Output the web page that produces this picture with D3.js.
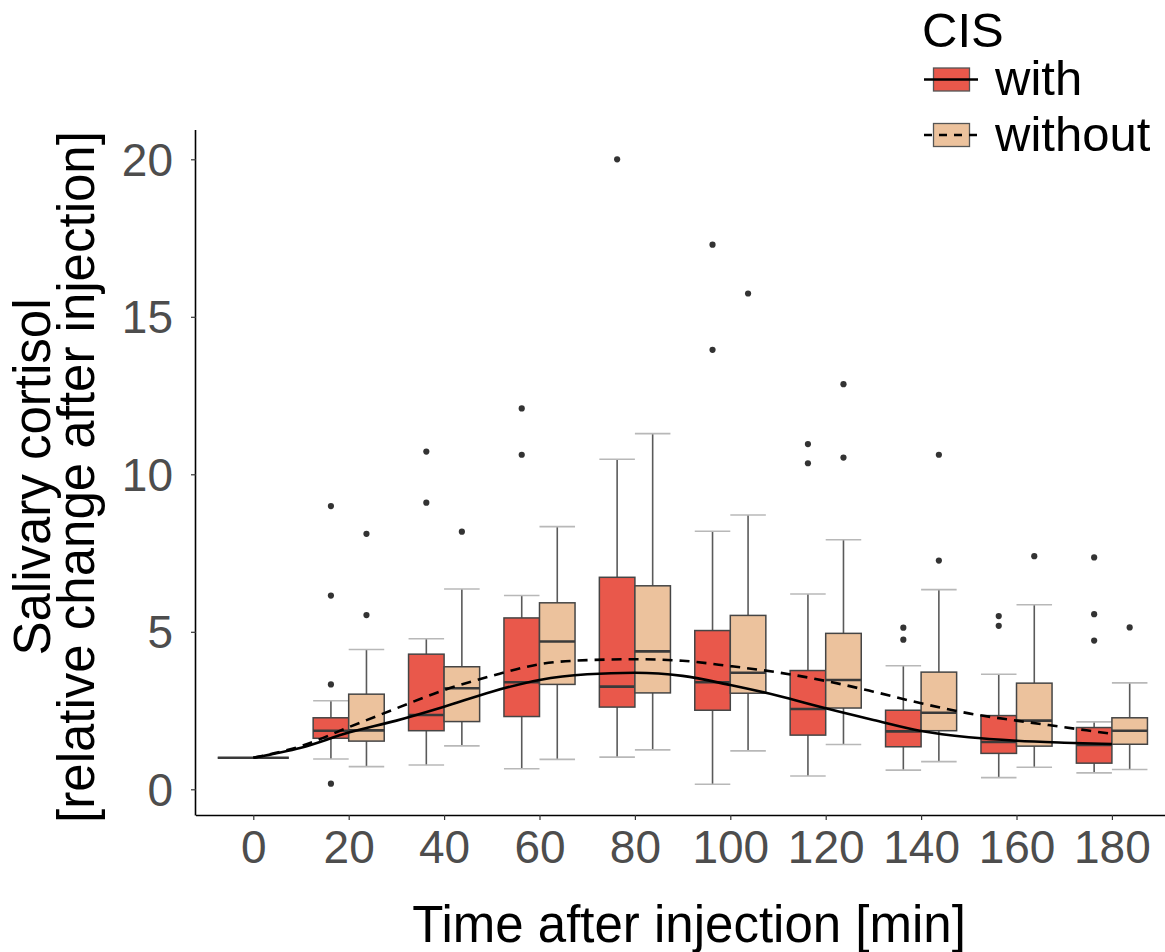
<!DOCTYPE html>
<html>
<head>
<meta charset="utf-8">
<script src="https://cdn.jsdelivr.net/npm/d3@7"></script>
<style>
  html, body { margin: 0; padding: 0; background: #fff; }
  svg { display: block; font-family: "Liberation Sans", Arial, sans-serif; }
</style>
</head>
<body>
<svg id="chart" width="1165" height="952"></svg>
<script>
// ---- data ----
const times = [0, 20, 40, 60, 80, 100, 120, 140, 160, 180];
const groups = ["with", "without"];
// [lower whisker, q1, median, q3, upper whisker]
const withBoxes = [
  [1, 1, 1, 1, 1],
  [0.96, 1.62, 1.86, 2.27, 2.81],
  [0.77, 1.86, 2.36, 4.29, 4.78],
  [0.65, 2.31, 3.40, 5.44, 6.15],
  [1.02, 2.61, 3.26, 6.73, 10.48],
  [0.16, 2.51, 3.40, 5.04, 8.19],
  [0.42, 1.72, 2.55, 3.77, 6.20],
  [0.61, 1.35, 1.84, 2.51, 3.92],
  [0.37, 1.14, 1.50, 2.34, 3.65],
  [0.52, 0.83, 1.41, 1.96, 2.14]
];
const withOutliers = [
  [],
  [8.99, 6.15, 3.33, 0.18],
  [10.72, 9.10],
  [12.09, 10.62],
  [20.0],
  [17.29, 13.95],
  [10.96, 10.35],
  [5.13, 4.75],
  [5.50, 5.19],
  [7.36, 5.56, 4.72]
];
const withoutBoxes = [
  [1, 1, 1, 1, 1],
  [0.72, 1.53, 1.87, 3.02, 4.44],
  [1.38, 2.15, 3.21, 3.89, 6.36],
  [0.95, 3.33, 4.69, 5.92, 8.34],
  [1.25, 3.06, 4.38, 6.46, 11.29],
  [1.22, 3.05, 3.70, 5.52, 8.71],
  [1.42, 2.58, 3.47, 4.95, 7.92],
  [0.88, 1.86, 2.43, 3.72, 6.34],
  [0.70, 1.37, 2.18, 3.37, 5.86],
  [0.63, 1.43, 1.86, 2.27, 3.38]
];
const withoutOutliers = [
  [],
  [8.11, 5.53],
  [8.18],
  [],
  [],
  [15.74],
  [12.86, 10.53],
  [10.62, 7.26],
  [7.40],
  [5.14]
];
// smoothed trend lines
const curveTimes = [0, 10, 20, 30, 40, 50, 60, 70, 80, 90, 100, 110, 120, 130, 140, 150, 160, 170, 180];
const withCurve = [1.00, 1.32, 1.80, 2.18, 2.62, 3.10, 3.47, 3.65, 3.70, 3.60, 3.31, 2.97, 2.57, 2.20, 1.85, 1.65, 1.54, 1.48, 1.44];
const withoutCurve = [1.00, 1.37, 1.97, 2.57, 3.15, 3.60, 3.97, 4.10, 4.13, 4.08, 3.91, 3.71, 3.44, 3.10, 2.73, 2.41, 2.18, 1.97, 1.76];
const xTicks = [0, 20, 40, 60, 80, 100, 120, 140, 160, 180];
const yTicks = [0, 5, 10, 15, 20];

// ---- layout ----
const svg = d3.select("#chart");
const x = d3.scaleLinear().domain([-12.01, 191.13]).range([196, 1165]);
const y = d3.scaleLinear().domain([-0.816, 20.93]).range([815, 130]);
const boxW = 7.45;           // in minutes
const offsets = { "with": -boxW / 2, "without": boxW / 2 };
const fills = { "with": "#e9584b", "without": "#ecc29d" };

const tickFont = 46, titleFont = 51;

// axes
const yAxis = d3.axisLeft(y).tickValues(yTicks).tickSize(5).tickPadding(18).tickFormat(d3.format("d"));
const xAxis = d3.axisBottom(x).tickValues(xTicks).tickSize(5).tickPadding(10).tickFormat(d3.format("d"));

const gy = svg.append("g").attr("transform", "translate(196,0)").call(yAxis);
const gx = svg.append("g").attr("transform", "translate(0,815)").call(xAxis);
[gy, gx].forEach(g => {
  g.select(".domain").attr("stroke", "#000").attr("stroke-width", 1.6);
  g.selectAll(".tick line").attr("stroke", "#333").attr("stroke-width", 1.2);
  g.selectAll(".tick text").attr("fill", "#4d4d4d").attr("font-size", tickFont)
    .attr("font-family", "'Liberation Sans', Arial, sans-serif");
});
gy.select(".domain").attr("d", "M-0.5,130V815.5");
gx.select(".domain").attr("d", "M196,0.5H1165");
gy.selectAll(".tick text").attr("dy", "0.35em");
gx.selectAll(".tick text").attr("dy", "0.71em");

// boxes
const plot = svg.append("g");
function drawGroup(name, boxes, outliers) {
  const g = plot.append("g").attr("class", "grp-" + name);
  times.forEach((t, i) => {
    const b = boxes[i];
    const cx = t + offsets[name];
    const x0 = x(cx - boxW / 2), x1 = x(cx + boxW / 2), xm = x(cx);
    // whiskers
    g.append("line").attr("x1", xm).attr("x2", xm).attr("y1", y(b[3])).attr("y2", y(b[4]))
      .attr("stroke", "#5a5a5a").attr("stroke-width", 1.6);
    g.append("line").attr("x1", xm).attr("x2", xm).attr("y1", y(b[1])).attr("y2", y(b[0]))
      .attr("stroke", "#5a5a5a").attr("stroke-width", 1.6);
    // caps
    [b[0], b[4]].forEach(v => {
      g.append("line").attr("x1", x0).attr("x2", x1).attr("y1", y(v)).attr("y2", y(v))
        .attr("stroke", "#b8b8b8").attr("stroke-width", 1.6);
    });
    // box
    g.append("rect").attr("x", x0).attr("width", x1 - x0)
      .attr("y", y(b[3])).attr("height", Math.max(0, y(b[1]) - y(b[3])))
      .attr("fill", fills[name]).attr("stroke", "#454545").attr("stroke-width", 1.5);
    // median
    g.append("line").attr("x1", x0).attr("x2", x1).attr("y1", y(b[2])).attr("y2", y(b[2]))
      .attr("stroke", "#3a3a3a").attr("stroke-width", 2.6);
    // outliers
    outliers[i].forEach(v => {
      g.append("circle").attr("cx", xm).attr("cy", y(v)).attr("r", 3.1).attr("fill", "#333");
    });
  });
}
drawGroup("with", withBoxes, withOutliers);
drawGroup("without", withoutBoxes, withoutOutliers);

// trend lines
const line = d3.line().x((d, i) => x(curveTimes[i])).y(d => y(d)).curve(d3.curveMonotoneX);
plot.append("path").datum(withCurve).attr("d", line)
  .attr("fill", "none").attr("stroke", "#000").attr("stroke-width", 2.6);
plot.append("path").datum(withoutCurve).attr("d", line)
  .attr("fill", "none").attr("stroke", "#000").attr("stroke-width", 2.6)
  .attr("stroke-dasharray", "10,7");

// axis titles
svg.append("text").attr("x", 689).attr("y", 942).attr("text-anchor", "middle")
  .attr("font-size", titleFont).attr("fill", "#000").text("Time after injection [min]");
const yt = svg.append("g").attr("transform", "translate(0,477) rotate(-90)");
yt.append("text").attr("x", 0).attr("y", 50).attr("text-anchor", "middle")
  .attr("font-size", titleFont).attr("fill", "#000").text("Salivary cortisol");
yt.append("text").attr("x", 0).attr("y", 94).attr("text-anchor", "middle")
  .attr("font-size", titleFont).attr("fill", "#000").text("[relative change after injection]");

// legend
const leg = svg.append("g");
leg.append("text").attr("x", 922).attr("y", 47).attr("font-size", 49).attr("fill", "#000").text("CIS");
const legRows = [
  { name: "with", label: "with", cy: 79.5, dash: null },
  { name: "without", label: "without", cy: 135, dash: "8,7" }
];
legRows.forEach(r => {
  leg.append("rect").attr("x", 933.5).attr("y", r.cy - 11.5).attr("width", 36).attr("height", 23)
    .attr("fill", fills[r.name]).attr("stroke", "#555").attr("stroke-width", 1.3);
  const l = leg.append("line").attr("x1", 924).attr("x2", 978).attr("y1", r.cy).attr("y2", r.cy)
    .attr("stroke", "#000").attr("stroke-width", 2.4);
  if (r.dash) l.attr("stroke-dasharray", r.dash);
  leg.append("text").attr("x", 995).attr("y", r.cy + 15.5).attr("font-size", 49)
    .attr("fill", "#000").text(r.label);
});
</script>
</body>
</html>
